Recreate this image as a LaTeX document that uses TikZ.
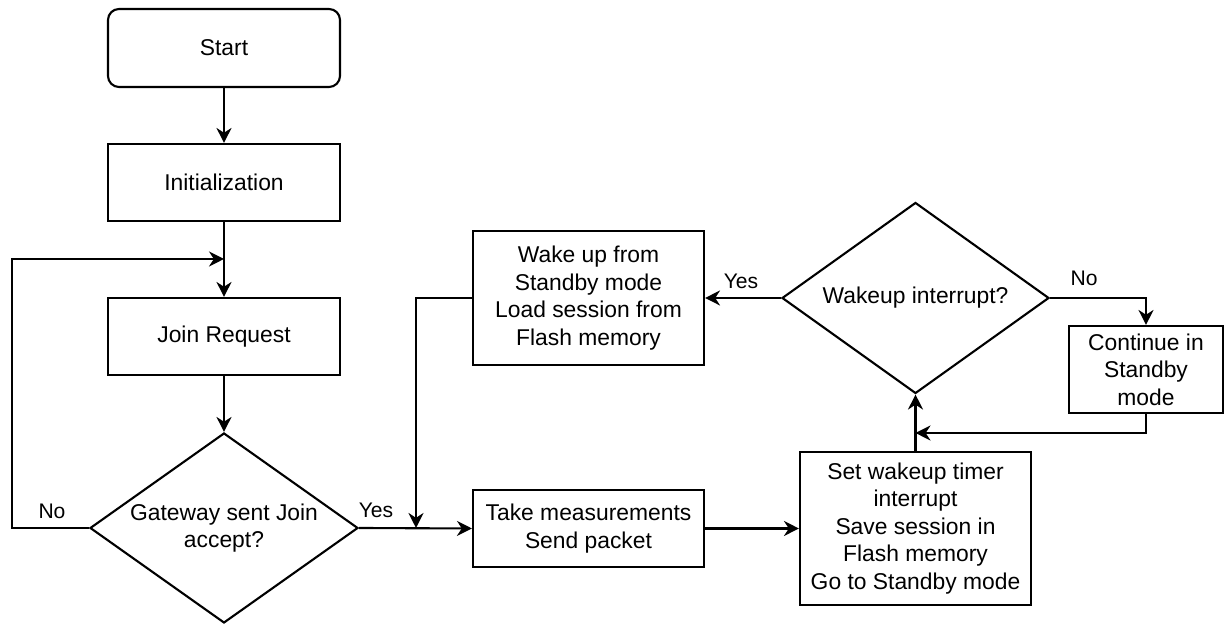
\documentclass[tikz,border=0pt]{standalone}
\usepackage{fontspec}
\setmainfont{Liberation Sans}
\usetikzlibrary{shapes.geometric,arrows.meta}

\tikzset{
  box/.style={draw, line width=1.2pt, align=center, inner sep=0pt},
  startbox/.style={box, rounded corners=0.22cm, minimum width=4.64cm, minimum height=1.56cm},
  decision/.style={draw, diamond, aspect=1.4, line width=1.2pt, align=center, inner sep=0pt},
  flow/.style={-{Stealth[length=0.3cm, width=0.3cm]}, line width=1.2pt},
  lbl/.style={font=\fontsize{12}{14}\selectfont}
}

\begin{document}
\begin{tikzpicture}[font=\fontsize{13}{15.6}\selectfont]
  % canvas 1228 x 624 px, 1 px = 0.02 cm
  \useasboundingbox (0,0) rectangle (24.56,12.48);

  % left column
  \node[startbox] (start) at (4.48,11.52) {Start};
  \node[box, minimum width=4.64cm, minimum height=1.54cm] (init) at (4.48,8.83) {Initialization};
  \node[box, minimum width=4.64cm, minimum height=1.54cm] (join) at (4.48,5.75) {Join Request};
  \node[decision, minimum width=5.36cm, minimum height=3.8cm] (gw) at (4.48,1.92) {Gateway sent Join\\accept?};

  % middle column
  \node[box, minimum width=4.62cm, minimum height=2.68cm] (wake) at (11.77,6.52)
    {Wake up from\\Standby mode\\Load session from\\Flash memory};
  \node[box, minimum width=4.62cm, minimum height=1.54cm] (take) at (11.77,1.91)
    {Take measurements\\Send packet};

  % right column
  \node[decision, minimum width=5.34cm, minimum height=3.82cm] (wk) at (18.31,6.52) {Wakeup interrupt?};
  \node[box, minimum width=3.08cm, minimum height=1.74cm] (cont) at (22.92,5.09)
    {Continue in\\Standby\\mode};
  \node[box, minimum width=4.62cm, minimum height=3.06cm] (set) at (18.31,1.91)
    {Set wakeup timer\\interrupt\\Save session in\\Flash memory\\Go to Standby mode};

  % helper points
  \coordinate (loop) at (4.48,7.3);
  \coordinate (noleft) at (0.24,1.92);
  \coordinate (yesjoin) at (8.32,1.92);
  \coordinate (back) at (18.31,3.82);

  % connectors
  \draw[flow] (start) -- (init);
  \draw[flow] (init) -- (join);
  \draw[flow] (join) -- (gw);
  \draw[flow] (gw.west) -- (noleft) |- (loop);
  \draw[flow] (gw.east) -- (take.west);
  \draw[flow] (wake.west) -| (yesjoin);
  \draw[flow] (take.east) -- (set.west);
  \draw[flow] (set.north) -- (wk.south);
  \draw[flow] (wk.west) -- (wake.east);
  \draw[flow] (wk.east) -| (cont.north);
  \draw[flow] (cont.south) |- (back);

  % labels
  \node[lbl] (gwno) at (1.04,2.26) {No};
  \node[lbl] (gwyes) at (7.52,2.28) {Yes};
  \node[lbl] (wkyes) at (14.82,6.86) {Yes};
  \node[lbl] (wkno) at (21.68,6.92) {No};
\end{tikzpicture}
\end{document}
